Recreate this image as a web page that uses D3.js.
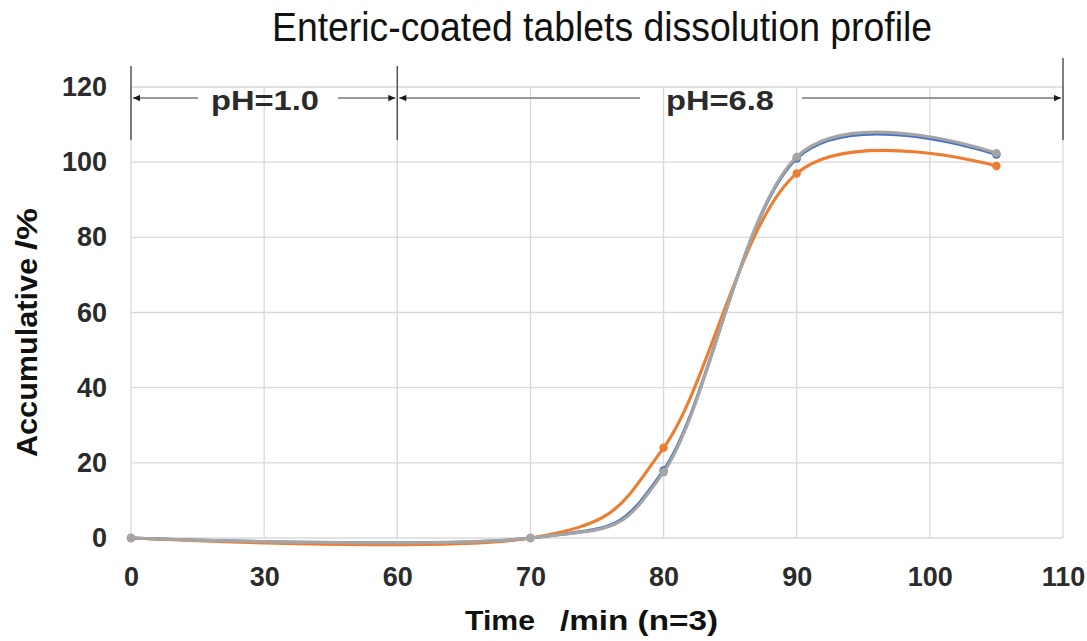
<!DOCTYPE html>
<html>
<head>
<meta charset="utf-8">
<script src="https://cdn.jsdelivr.net/npm/d3@7"></script>
<style>
  html, body { margin: 0; padding: 0; background: #fff; }
  svg { display: block; font-family: "Liberation Sans", Arial, sans-serif; }
</style>
</head>
<body>
<svg id="chart" width="1087" height="641"></svg>
<script>
// Time axis tick labels (evenly spaced categories of sampling time, min)
const xTicks = [0, 30, 60, 70, 80, 90, 100, 110];
const yTicks = [0, 20, 40, 60, 80, 100, 120];

// Sampling times and accumulative dissolution (%) of three batches
const times = [0, 70, 80, 90, 105];
const batch1 = [0, 0, 18.0, 101.0, 102.0];
const batch2 = [0, 0, 24.0, 97.0, 99.0];
const batch3 = [0, 0, 17.5, 101.4, 102.4];

const seriesColors = ["#4472C4", "#ED7D31", "#A5A5A5"];

// pH stages shown above the plot
const stages = [
  { label: "pH=1.0", from: 0, to: 60, center: 265, gapL: 67, gapR: 73 },
  { label: "pH=6.8", from: 60, to: 110, center: 720, gapL: 80, gapR: 82 }
];

const svg = d3.select("#chart");
const plotL = 131, plotR = 1063, plotT = 87, plotB = 538;

// Piecewise scale: each tick label sits at an equal spacing
const x = d3.scaleLinear()
  .domain(xTicks)
  .range(xTicks.map((d, i) => plotL + (plotR - plotL) * i / (xTicks.length - 1)));
const y = d3.scaleLinear().domain([0, 120]).range([plotB, plotT]);

// Gridlines
const grid = svg.append("g").attr("stroke", "#d9d9d9").attr("stroke-width", 1.3);
grid.selectAll("line.h").data(yTicks).join("line").attr("class", "h")
  .attr("x1", plotL).attr("x2", plotR)
  .attr("y1", d => y(d)).attr("y2", d => y(d));
grid.selectAll("line.v").data(xTicks).join("line").attr("class", "v")
  .attr("y1", plotT).attr("y2", plotB)
  .attr("x1", d => x(d)).attr("x2", d => x(d));

// Axes (labels only)
const yAxis = svg.append("g").attr("transform", `translate(${plotL},0)`)
  .call(d3.axisLeft(y).tickValues(yTicks).tickSize(0).tickPadding(24));
const xAxis = svg.append("g").attr("transform", `translate(0,${plotB})`)
  .call(d3.axisBottom(x).tickValues(xTicks).tickSize(0).tickPadding(29));
[yAxis, xAxis].forEach(a => {
  a.select(".domain").remove();
  a.selectAll("text")
    .attr("font-size", 27).attr("font-weight", "bold").attr("fill", "#2b2b2b")
    .attr("font-family", "'Liberation Sans', Arial, sans-serif");
});

// Stage markers: vertical bars and double-headed arrows
const defs = svg.append("defs");
defs.append("marker").attr("id", "arrowR")
  .attr("viewBox", "0 0 10 10").attr("refX", 10).attr("refY", 5)
  .attr("markerWidth", 9).attr("markerHeight", 7).attr("markerUnits", "userSpaceOnUse")
  .attr("orient", "auto")
  .append("path").attr("d", "M0,0.5 L10,5 L0,9.5 Z").attr("fill", "#1a1a1a");

const arrowY = 98;
const stageG = svg.append("g");
stageG.selectAll("line.bar").data([0, 60, 110]).join("line")
  .attr("x1", d => x(d)).attr("x2", d => x(d))
  .attr("y1", d => d === 110 ? 58 : 66).attr("y2", 140)
  .attr("stroke", "#555").attr("stroke-width", 1.5);

stages.forEach(s => {
  const x0 = x(s.from) + 2, x1 = x(s.to) - 2;
  stageG.append("line")
    .attr("x1", s.center - s.gapL).attr("x2", x0)
    .attr("y1", arrowY).attr("y2", arrowY)
    .attr("stroke", "#999").attr("stroke-width", 1.8)
    .attr("marker-end", "url(#arrowR)");
  stageG.append("line")
    .attr("x1", s.center + s.gapR).attr("x2", x1)
    .attr("y1", arrowY).attr("y2", arrowY)
    .attr("stroke", "#999").attr("stroke-width", 1.8)
    .attr("marker-end", "url(#arrowR)");
  stageG.append("text")
    .attr("x", s.center - 54).attr("y", 110)
    .attr("font-size", 28).attr("font-weight", "bold").attr("fill", "#2b2b2b")
    .attr("textLength", 108).attr("lengthAdjust", "spacingAndGlyphs")
    .text(s.label);
});

// Dissolution curves
const line = d3.line()
  .x((d, i) => x(times[i]))
  .y(d => y(d))
  .curve(d3.curveCardinal.tension(0));

const allSeries = [batch1, batch2, batch3];
allSeries.forEach((vals, k) => {
  svg.append("path")
    .datum(vals)
    .attr("d", line)
    .attr("fill", "none")
    .attr("stroke", seriesColors[k])
    .attr("stroke-width", 3.1)
    .attr("stroke-linecap", "round");
  svg.append("g").selectAll("circle").data(vals).join("circle")
    .attr("cx", (d, i) => x(times[i]))
    .attr("cy", d => y(d))
    .attr("r", 4.2)
    .attr("fill", seriesColors[k]);
});

// Title
svg.append("text")
  .attr("x", 272).attr("y", 41)
  .attr("font-family", "'Liberation Sans Narrow', 'Liberation Sans', Arial, sans-serif")
  .attr("font-size", 41).attr("fill", "#111")
  .attr("textLength", 660).attr("lengthAdjust", "spacingAndGlyphs")
  .text("Enteric-coated tablets dissolution profile");

// Axis titles
const yTitle = svg.append("g").attr("transform", "translate(37,0) rotate(-90)")
  .attr("font-size", 30).attr("font-weight", "bold").attr("fill", "#111");
yTitle.append("text").attr("x", -457).attr("y", 0)
  .attr("textLength", 199).attr("lengthAdjust", "spacingAndGlyphs")
  .text("Accumulative");
yTitle.append("text").attr("x", -250).attr("y", 0)
  .attr("textLength", 42).attr("lengthAdjust", "spacingAndGlyphs")
  .text("/%");

const xTitle = svg.append("g").attr("font-size", 28).attr("fill", "#111");
xTitle.append("text").attr("x", 465).attr("y", 630).attr("font-weight", "bold")
  .attr("textLength", 70).attr("lengthAdjust", "spacingAndGlyphs")
  .text("Time");
xTitle.append("text").attr("x", 560).attr("y", 630).attr("font-weight", "bold")
  .attr("textLength", 158).attr("lengthAdjust", "spacingAndGlyphs")
  .text("/min (n=3)");
</script>
</body>
</html>
